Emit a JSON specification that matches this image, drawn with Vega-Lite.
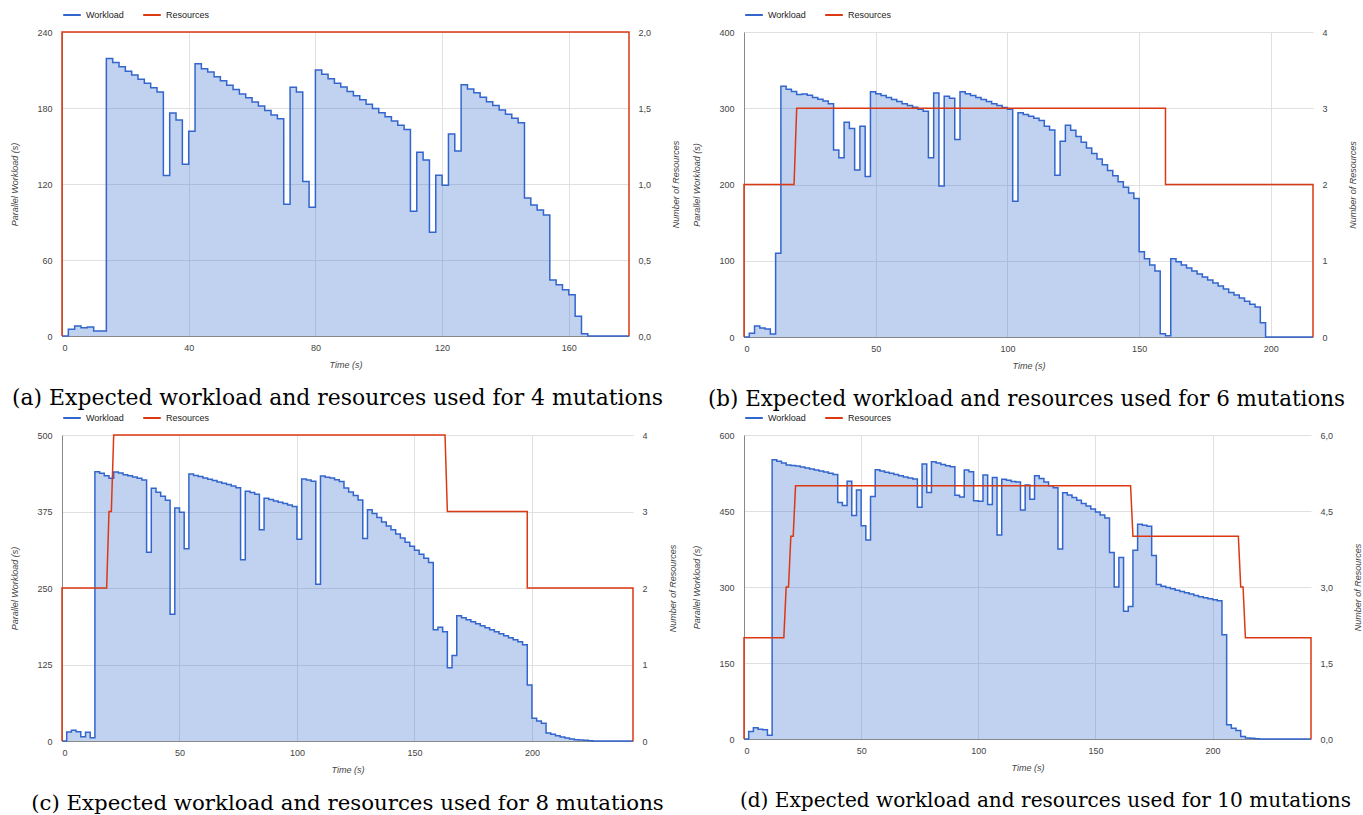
{
"$schema": "https://vega.github.io/schema/vega-lite/v6.json",
"background": "white",
"padding": {"left": 10, "top": 5, "right": 2, "bottom": 5},
"bounds": "flush",
"columns": 2,
"spacing": {"row": 98, "column": 111},
"datasets": {
"a_work": [{"t":0,"v":0},{"t":2,"v":5.3},{"t":4,"v":7.9},{"t":6,"v":6.6},{"t":8,"v":7.1},{"t":10,"v":4},{"t":14,"v":219},{"t":16,"v":216},{"t":18,"v":212.6},{"t":20,"v":209},{"t":22,"v":206},{"t":24,"v":202.6},{"t":26,"v":199.5},{"t":28,"v":196},{"t":30,"v":192.6},{"t":32,"v":126.8},{"t":34,"v":176},{"t":36,"v":170.5},{"t":38,"v":135.5},{"t":40,"v":161.6},{"t":42,"v":215},{"t":44,"v":211},{"t":46,"v":208.4},{"t":48,"v":204.7},{"t":50,"v":201.6},{"t":52,"v":198},{"t":54,"v":194.7},{"t":56,"v":191},{"t":58,"v":188},{"t":60,"v":184.7},{"t":62,"v":181.6},{"t":64,"v":178},{"t":66,"v":174.5},{"t":68,"v":171.6},{"t":70,"v":104},{"t":72,"v":196.3},{"t":74,"v":192.6},{"t":76,"v":122},{"t":78,"v":101.6},{"t":80,"v":210},{"t":82,"v":206.6},{"t":84,"v":203},{"t":86,"v":199.5},{"t":88,"v":196.6},{"t":90,"v":193},{"t":92,"v":189.7},{"t":94,"v":186.6},{"t":96,"v":183},{"t":98,"v":179.7},{"t":100,"v":176.3},{"t":102,"v":173},{"t":104,"v":169.7},{"t":106,"v":166.3},{"t":108,"v":163},{"t":110,"v":98.4},{"t":112,"v":145},{"t":114,"v":139},{"t":116,"v":82},{"t":118,"v":127},{"t":120,"v":119},{"t":122,"v":159.5},{"t":124,"v":146},{"t":126,"v":198.4},{"t":128,"v":195},{"t":130,"v":192},{"t":132,"v":188.4},{"t":134,"v":185},{"t":136,"v":182},{"t":138,"v":178.4},{"t":140,"v":175},{"t":142,"v":172},{"t":144,"v":168.4},{"t":146,"v":109},{"t":148,"v":103.4},{"t":150,"v":99.5},{"t":152,"v":95.5},{"t":154,"v":44.2},{"t":156,"v":40.5},{"t":158,"v":36.6},{"t":160,"v":32.6},{"t":162,"v":15.5},{"t":164,"v":1.8},{"t":166,"v":0},{"t":179,"v":0}],
"a_res": [{"t":0,"v":0},{"t":0,"v":2},{"t":179,"v":2},{"t":179,"v":0}],
"b_work": [{"t":0,"v":0},{"t":2,"v":4.8},{"t":4,"v":14.4},{"t":6,"v":11.8},{"t":8,"v":10.5},{"t":10,"v":3.9},{"t":12,"v":110},{"t":14,"v":328.8},{"t":16,"v":325},{"t":18,"v":322},{"t":20,"v":318},{"t":22,"v":318.8},{"t":24,"v":317},{"t":26,"v":314},{"t":28,"v":311.8},{"t":30,"v":309.6},{"t":32,"v":306},{"t":34,"v":245.4},{"t":36,"v":235},{"t":38,"v":281.7},{"t":40,"v":273.4},{"t":42,"v":219},{"t":44,"v":276.4},{"t":46,"v":210.5},{"t":48,"v":321.8},{"t":50,"v":319},{"t":52,"v":316.6},{"t":54,"v":314},{"t":56,"v":311.4},{"t":58,"v":308.7},{"t":60,"v":306},{"t":62,"v":303.5},{"t":64,"v":301.3},{"t":66,"v":298.7},{"t":68,"v":296},{"t":70,"v":235},{"t":72,"v":320},{"t":74,"v":198},{"t":76,"v":315.7},{"t":78,"v":313},{"t":80,"v":259},{"t":82,"v":321.8},{"t":84,"v":319},{"t":86,"v":316.6},{"t":88,"v":314},{"t":90,"v":311.4},{"t":92,"v":308.7},{"t":94,"v":306},{"t":96,"v":303.5},{"t":98,"v":301},{"t":100,"v":298.7},{"t":102,"v":178},{"t":104,"v":294},{"t":106,"v":291.7},{"t":108,"v":289.5},{"t":110,"v":287},{"t":112,"v":284},{"t":114,"v":276.4},{"t":116,"v":271.6},{"t":118,"v":212},{"t":120,"v":256.8},{"t":122,"v":277.7},{"t":124,"v":271},{"t":126,"v":263},{"t":128,"v":255.5},{"t":130,"v":248},{"t":132,"v":240.6},{"t":134,"v":233.6},{"t":136,"v":225.8},{"t":138,"v":218.3},{"t":140,"v":211.4},{"t":142,"v":203.5},{"t":144,"v":196.5},{"t":146,"v":189},{"t":148,"v":181.7},{"t":150,"v":111.8},{"t":152,"v":102.6},{"t":154,"v":94.3},{"t":156,"v":86.5},{"t":158,"v":4.4},{"t":160,"v":1.7},{"t":162,"v":102.6},{"t":164,"v":98.7},{"t":166,"v":94.3},{"t":168,"v":90.4},{"t":170,"v":86.5},{"t":172,"v":82.5},{"t":174,"v":78.6},{"t":176,"v":74.7},{"t":178,"v":70.7},{"t":180,"v":66.8},{"t":182,"v":62.9},{"t":184,"v":58.5},{"t":186,"v":55},{"t":188,"v":51},{"t":190,"v":47},{"t":192,"v":43},{"t":194,"v":39.3},{"t":196,"v":18.8},{"t":198,"v":0},{"t":216,"v":0}],
"b_res": [{"t":0,"v":0},{"t":0,"v":2},{"t":19,"v":2},{"t":20,"v":3},{"t":160,"v":3},{"t":160,"v":2},{"t":216,"v":2},{"t":216,"v":0}],
"c_work": [{"t":0,"v":0},{"t":2,"v":14.7},{"t":4,"v":17.4},{"t":6,"v":15.2},{"t":8,"v":7.1},{"t":10,"v":14.1},{"t":12,"v":5.4},{"t":14,"v":440},{"t":16,"v":437.4},{"t":18,"v":433.6},{"t":20,"v":429.3},{"t":22,"v":439.6},{"t":24,"v":438},{"t":26,"v":435},{"t":28,"v":433.6},{"t":30,"v":431.4},{"t":32,"v":429.3},{"t":34,"v":426.5},{"t":36,"v":308.5},{"t":38,"v":413},{"t":40,"v":406.4},{"t":42,"v":400},{"t":44,"v":393.4},{"t":46,"v":207.3},{"t":48,"v":380.8},{"t":50,"v":373.8},{"t":52,"v":314},{"t":54,"v":436.3},{"t":56,"v":434},{"t":58,"v":432},{"t":60,"v":429.8},{"t":62,"v":427.6},{"t":64,"v":425.5},{"t":66,"v":423.3},{"t":68,"v":421},{"t":70,"v":419},{"t":72,"v":416.8},{"t":74,"v":414},{"t":76,"v":296},{"t":78,"v":408},{"t":80,"v":405.9},{"t":82,"v":403},{"t":84,"v":345},{"t":86,"v":396.6},{"t":88,"v":394.5},{"t":90,"v":392.3},{"t":92,"v":390},{"t":94,"v":388},{"t":96,"v":385.7},{"t":98,"v":383},{"t":100,"v":329.7},{"t":102,"v":428.2},{"t":104,"v":426.5},{"t":106,"v":424.4},{"t":108,"v":256.3},{"t":110,"v":433},{"t":112,"v":431},{"t":114,"v":429.8},{"t":116,"v":427},{"t":118,"v":424},{"t":120,"v":413.5},{"t":122,"v":407},{"t":124,"v":401},{"t":126,"v":393.6},{"t":128,"v":331},{"t":130,"v":378},{"t":132,"v":371.6},{"t":134,"v":365},{"t":136,"v":358},{"t":138,"v":351.5},{"t":140,"v":345},{"t":142,"v":338.4},{"t":144,"v":331.9},{"t":146,"v":324.8},{"t":148,"v":318.3},{"t":150,"v":311.8},{"t":152,"v":305.2},{"t":154,"v":298.7},{"t":156,"v":291.6},{"t":158,"v":181.7},{"t":160,"v":186},{"t":162,"v":178.5},{"t":164,"v":119.7},{"t":166,"v":139.8},{"t":168,"v":204.6},{"t":170,"v":201.3},{"t":172,"v":198},{"t":174,"v":194.8},{"t":176,"v":191.5},{"t":178,"v":188.2},{"t":180,"v":185},{"t":182,"v":181.7},{"t":184,"v":178.5},{"t":186,"v":175.2},{"t":188,"v":172},{"t":190,"v":168.7},{"t":192,"v":165.4},{"t":194,"v":162},{"t":196,"v":157.2},{"t":198,"v":91.4},{"t":200,"v":37},{"t":202,"v":32.6},{"t":204,"v":28.8},{"t":206,"v":13},{"t":208,"v":10.9},{"t":210,"v":8.7},{"t":212,"v":6.5},{"t":214,"v":4.9},{"t":216,"v":3.3},{"t":218,"v":2.2},{"t":220,"v":1.6},{"t":222,"v":1.1},{"t":224,"v":0.5},{"t":226,"v":0},{"t":243,"v":0}],
"c_res": [{"t":0,"v":0},{"t":0,"v":2},{"t":19,"v":2},{"t":20,"v":3},{"t":21,"v":3},{"t":22,"v":4},{"t":163,"v":4},{"t":164,"v":3},{"t":198,"v":3},{"t":198,"v":2},{"t":243,"v":2},{"t":243,"v":0}],
"d_work": [{"t":0,"v":0},{"t":2,"v":15},{"t":4,"v":22.3},{"t":6,"v":19},{"t":8,"v":18.4},{"t":10,"v":7.2},{"t":12,"v":551},{"t":14,"v":548},{"t":16,"v":544.8},{"t":18,"v":540.8},{"t":20,"v":540},{"t":22,"v":539},{"t":24,"v":537},{"t":26,"v":535},{"t":28,"v":533},{"t":30,"v":531},{"t":32,"v":529},{"t":34,"v":527},{"t":36,"v":524.4},{"t":38,"v":521.8},{"t":40,"v":466.6},{"t":42,"v":460.7},{"t":44,"v":508.6},{"t":46,"v":441},{"t":48,"v":491.5},{"t":50,"v":421},{"t":52,"v":393},{"t":54,"v":478.4},{"t":56,"v":531.6},{"t":58,"v":529},{"t":60,"v":526.4},{"t":62,"v":524.4},{"t":64,"v":521.8},{"t":66,"v":519.8},{"t":68,"v":517.2},{"t":70,"v":515.2},{"t":72,"v":513.2},{"t":74,"v":457.4},{"t":76,"v":542.8},{"t":78,"v":486.3},{"t":80,"v":547.4},{"t":82,"v":544.8},{"t":84,"v":542},{"t":86,"v":539.5},{"t":88,"v":537.5},{"t":90,"v":481},{"t":92,"v":477.8},{"t":94,"v":531},{"t":96,"v":527.7},{"t":98,"v":470},{"t":100,"v":469},{"t":102,"v":521},{"t":104,"v":462.6},{"t":106,"v":515.9},{"t":108,"v":402.8},{"t":110,"v":512.6},{"t":112,"v":510.6},{"t":114,"v":508},{"t":116,"v":507},{"t":118,"v":452},{"t":120,"v":501.4},{"t":122,"v":473},{"t":124,"v":519.8},{"t":126,"v":514},{"t":128,"v":507},{"t":130,"v":500},{"t":132,"v":496},{"t":134,"v":375},{"t":136,"v":486},{"t":138,"v":481.7},{"t":140,"v":476.4},{"t":142,"v":471},{"t":144,"v":465},{"t":146,"v":460},{"t":148,"v":454},{"t":150,"v":448},{"t":152,"v":442},{"t":154,"v":436.4},{"t":156,"v":368},{"t":158,"v":300},{"t":160,"v":358},{"t":162,"v":252},{"t":164,"v":261.6},{"t":166,"v":372.6},{"t":168,"v":424},{"t":170,"v":422},{"t":172,"v":420},{"t":174,"v":362},{"t":176,"v":305},{"t":178,"v":301.6},{"t":180,"v":299},{"t":182,"v":296.4},{"t":184,"v":293.7},{"t":186,"v":291},{"t":188,"v":288.5},{"t":190,"v":286},{"t":192,"v":283},{"t":194,"v":280.6},{"t":196,"v":278.6},{"t":198,"v":276.7},{"t":200,"v":274.7},{"t":202,"v":272.7},{"t":204,"v":206},{"t":206,"v":28},{"t":208,"v":21},{"t":210,"v":17},{"t":212,"v":5},{"t":214,"v":2},{"t":216,"v":1.3},{"t":218,"v":0.6},{"t":220,"v":0},{"t":242,"v":0}],
"d_res": [{"t":0,"v":0},{"t":0,"v":2},{"t":17,"v":2},{"t":18,"v":3},{"t":19,"v":3},{"t":20,"v":4},{"t":21,"v":4},{"t":22,"v":5},{"t":165,"v":5},{"t":166,"v":4},{"t":211,"v":4},{"t":212,"v":3},{"t":213,"v":3},{"t":214,"v":2},{"t":242,"v":2},{"t":242,"v":0}]
},
"concat": [
{"width": 567, "height": 304,
 "title": {"text": "(a) Expected workload and resources used for 4 mutations", "fontSize": 21.9, "dx": -8},
 "layer": [
  {"data": {"name": "a_work"},
   "mark": {"type": "area", "interpolate": "step-after", "fillOpacity": 0.3, "line": {"strokeWidth": 1.5}},
   "encoding": {
    "x": {"field": "t", "type": "quantitative", "scale": {"domain": [0, 179], "nice": false}, "axis": {"values": [0, 40, 80, 120, 160], "title": "Time (s)"}},
    "y": {"field": "v", "type": "quantitative", "scale": {"domain": [0, 240], "nice": false}, "axis": {"values": [0, 60, 120, 180, 240], "title": "Parallel Workload (s)"}},
    "color": {"datum": "Workload", "type": "nominal", "scale": {"domain": ["Workload", "Resources"], "range": ["#3366cc", "#dc3912"]}, "legend": {"title": null}}
   }},
  {"data": {"name": "a_res"},
   "mark": {"type": "line", "strokeWidth": 1.5},
   "encoding": {
    "x": {"field": "t", "type": "quantitative"},
    "y": {"field": "v", "type": "quantitative", "scale": {"domain": [0, 2], "nice": false}, "axis": {"orient": "right", "values": [0, 0.5, 1, 1.5, 2], "labelExpr": "replace(format(datum.value, '.1f'), '.', ',')", "title": "Number of Resources", "grid": false}},
    "color": {"datum": "Resources", "type": "nominal"},
    "order": {"value": null}
   }}
 ],
 "resolve": {"scale": {"y": "independent"}}
},
{"width": 569, "height": 305,
 "title": {"text": "(b) Expected workload and resources used for 6 mutations", "fontSize": 21.4, "dx": -2},
 "layer": [
  {"data": {"name": "b_work"},
   "mark": {"type": "area", "interpolate": "step-after", "fillOpacity": 0.3, "line": {"strokeWidth": 1.5}},
   "encoding": {
    "x": {"field": "t", "type": "quantitative", "scale": {"domain": [0, 216], "nice": false}, "axis": {"values": [0, 50, 100, 150, 200], "title": "Time (s)"}},
    "y": {"field": "v", "type": "quantitative", "scale": {"domain": [0, 400], "nice": false}, "axis": {"values": [0, 100, 200, 300, 400], "title": "Parallel Workload (s)"}},
    "color": {"datum": "Workload", "type": "nominal", "scale": {"domain": ["Workload", "Resources"], "range": ["#3366cc", "#dc3912"]}, "legend": {"title": null}}
   }},
  {"data": {"name": "b_res"},
   "mark": {"type": "line", "strokeWidth": 1.5},
   "encoding": {
    "x": {"field": "t", "type": "quantitative"},
    "y": {"field": "v", "type": "quantitative", "scale": {"domain": [0, 4], "nice": false}, "axis": {"orient": "right", "values": [0, 1, 2, 3, 4], "title": "Number of Resources", "grid": false}},
    "color": {"datum": "Resources", "type": "nominal"},
    "order": {"value": null}
   }}
 ],
 "resolve": {"scale": {"y": "independent"}}
},
{"width": 571, "height": 306,
 "title": {"text": "(c) Expected workload and resources used for 8 mutations", "fontSize": 21.3, "dx": 0},
 "layer": [
  {"data": {"name": "c_work"},
   "mark": {"type": "area", "interpolate": "step-after", "fillOpacity": 0.3, "line": {"strokeWidth": 1.5}},
   "encoding": {
    "x": {"field": "t", "type": "quantitative", "scale": {"domain": [0, 243], "nice": false}, "axis": {"values": [0, 50, 100, 150, 200], "title": "Time (s)"}},
    "y": {"field": "v", "type": "quantitative", "scale": {"domain": [0, 500], "nice": false}, "axis": {"values": [0, 125, 250, 375, 500], "title": "Parallel Workload (s)"}},
    "color": {"datum": "Workload", "type": "nominal", "scale": {"domain": ["Workload", "Resources"], "range": ["#3366cc", "#dc3912"]}, "legend": {"title": null}}
   }},
  {"data": {"name": "c_res"},
   "mark": {"type": "line", "strokeWidth": 1.5},
   "encoding": {
    "x": {"field": "t", "type": "quantitative"},
    "y": {"field": "v", "type": "quantitative", "scale": {"domain": [0, 4], "nice": false}, "axis": {"orient": "right", "values": [0, 1, 2, 3, 4], "title": "Number of Resources", "grid": false}},
    "color": {"datum": "Resources", "type": "nominal"},
    "order": {"value": null}
   }}
 ],
 "resolve": {"scale": {"y": "independent"}}
},
{"width": 567, "height": 304,
 "title": {"text": "(d) Expected workload and resources used for 10 mutations", "fontSize": 20.1, "dx": 18},
 "layer": [
  {"data": {"name": "d_work"},
   "mark": {"type": "area", "interpolate": "step-after", "fillOpacity": 0.3, "line": {"strokeWidth": 1.5}},
   "encoding": {
    "x": {"field": "t", "type": "quantitative", "scale": {"domain": [0, 242], "nice": false}, "axis": {"values": [0, 50, 100, 150, 200], "title": "Time (s)"}},
    "y": {"field": "v", "type": "quantitative", "scale": {"domain": [0, 600], "nice": false}, "axis": {"values": [0, 150, 300, 450, 600], "title": "Parallel Workload (s)"}},
    "color": {"datum": "Workload", "type": "nominal", "scale": {"domain": ["Workload", "Resources"], "range": ["#3366cc", "#dc3912"]}, "legend": {"title": null}}
   }},
  {"data": {"name": "d_res"},
   "mark": {"type": "line", "strokeWidth": 1.5},
   "encoding": {
    "x": {"field": "t", "type": "quantitative"},
    "y": {"field": "v", "type": "quantitative", "scale": {"domain": [0, 6], "nice": false}, "axis": {"orient": "right", "values": [0, 1.5, 3, 4.5, 6], "labelExpr": "replace(format(datum.value, '.1f'), '.', ',')", "title": "Number of Resources", "grid": false}},
    "color": {"datum": "Resources", "type": "nominal"},
    "order": {"value": null}
   }}
 ],
 "resolve": {"scale": {"y": "independent"}}
}
],
"resolve": {"scale": {"color": "independent"}, "legend": {"color": "independent"}},
"config": {
 "view": {"stroke": null},
 "font": "Liberation Sans",
 "axis": {"labelFont": "Liberation Sans", "labelFontSize": 9, "labelColor": "#444", "titleFont": "Liberation Sans", "titleFontSize": 9, "titleFontStyle": "italic", "titleFontWeight": "normal", "titleColor": "#444", "ticks": false, "gridColor": "#e0e0e0", "domainColor": "#888", "grid": true},
 "axisX": {"labelPadding": 7, "titlePadding": 8},
 "axisLeft": {"labelPadding": 10, "titlePadding": 17},
 "axisRight": {"labelPadding": 9, "titlePadding": 30, "titleAngle": 270, "domain": false, "grid": false},
 "legend": {"orient": "top", "direction": "horizontal", "symbolType": "stroke", "symbolSize": 310, "symbolStrokeWidth": 2, "labelFont": "Liberation Sans", "labelFontSize": 9, "labelColor": "#222", "offset": 12, "columnPadding": 15, "labelOffset": 4},
 "title": {"font": "DejaVu Serif", "fontSize": 22, "fontWeight": "normal", "color": "#000", "orient": "bottom", "anchor": "middle", "offset": 19}
}
}
